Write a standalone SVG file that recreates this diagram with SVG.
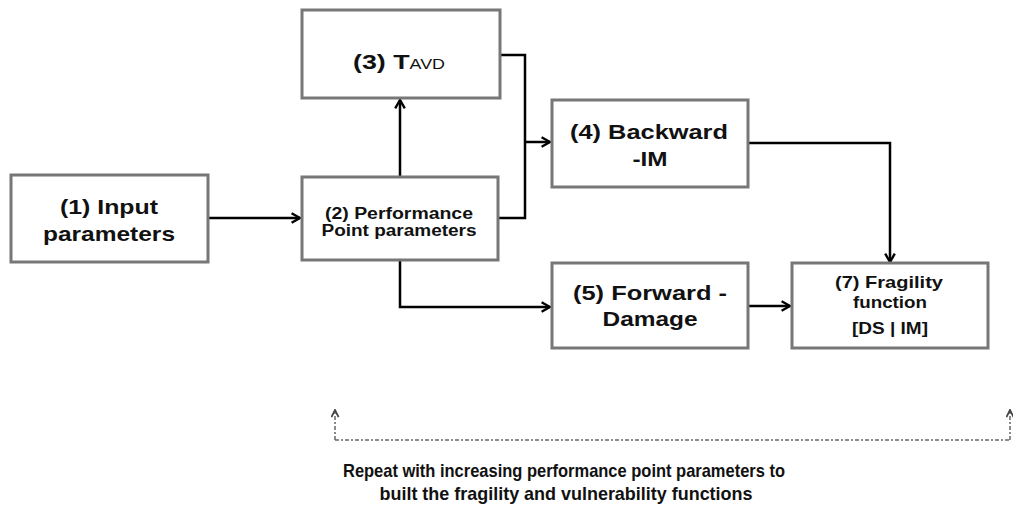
<svg xmlns="http://www.w3.org/2000/svg" width="1013" height="508" viewBox="0 0 1013 508">
<style>
.box{fill:#fff;stroke:#777;stroke-width:3}
.t{font-family:"Liberation Sans",Arial,sans-serif;font-weight:bold;fill:#111;text-anchor:middle}
.c{fill:none;stroke:#000;stroke-width:2.5}
.d{fill:none;stroke:#666;stroke-width:1.5;stroke-dasharray:4 2 2 2}
</style>
<defs>
<marker id="a" viewBox="0 0 10 10" refX="9" refY="5" markerWidth="12" markerHeight="13" orient="auto" markerUnits="userSpaceOnUse">
<path d="M2,1 L9,5 L2,9" fill="none" stroke="#000" stroke-width="2"/>
</marker>
<marker id="ad" viewBox="0 0 10 10" refX="9" refY="5" markerWidth="10" markerHeight="9" orient="auto" markerUnits="userSpaceOnUse">
<path d="M1,1 L9,5 L1,9" fill="none" stroke="#444" stroke-width="2"/>
</marker>
</defs>
<g id="connectors">
<path class="c" d="M208,218 H300" marker-end="url(#a)"/>
<path class="c" d="M400,177 V100" marker-end="url(#a)"/>
<path class="c" d="M500,55 H525 V218 H498"/>
<path class="c" d="M525,142 H550" marker-end="url(#a)"/>
<path class="c" d="M748,143 H890 V262" marker-end="url(#a)"/>
<path class="c" d="M400,260 V307 H550" marker-end="url(#a)"/>
<path class="c" d="M748,306 H790" marker-end="url(#a)"/>
<path class="d" d="M335,440 H1010"/>
<path class="d" d="M335,440 V410" marker-end="url(#ad)"/>
<path class="d" d="M1010,440 V410" marker-end="url(#ad)"/>
</g>
<g id="n1"><rect class="box" x="11" y="175" width="197" height="87"/>
<text class="t" x="109" y="214" font-size="21" textLength="98" lengthAdjust="spacingAndGlyphs">(1) Input</text>
<text class="t" x="109" y="241" font-size="21" textLength="132" lengthAdjust="spacingAndGlyphs">parameters</text></g>
<g id="n2"><rect class="box" x="302" y="177" width="196" height="83"/>
<text class="t" x="399" y="219" font-size="16" textLength="148" lengthAdjust="spacingAndGlyphs">(2) Performance</text>
<text class="t" x="399" y="236" font-size="16" textLength="155" lengthAdjust="spacingAndGlyphs">Point parameters</text></g>
<g id="n3"><rect class="box" x="302" y="10" width="198" height="88"/>
<text class="t" x="399" y="69" font-size="21" textLength="92" lengthAdjust="spacingAndGlyphs">(3) T<tspan font-size="14" font-weight="normal">AVD</tspan></text></g>
<g id="n4"><rect class="box" x="552" y="100" width="196" height="87"/>
<text class="t" x="649" y="139" font-size="21" textLength="158" lengthAdjust="spacingAndGlyphs">(4) Backward</text>
<text class="t" x="650" y="166" font-size="21" textLength="35" lengthAdjust="spacingAndGlyphs">-IM</text></g>
<g id="n5"><rect class="box" x="552" y="263" width="196" height="85"/>
<text class="t" x="650" y="300" font-size="21" textLength="154" lengthAdjust="spacingAndGlyphs">(5) Forward -</text>
<text class="t" x="650" y="326" font-size="21" textLength="95" lengthAdjust="spacingAndGlyphs">Damage</text></g>
<g id="n7"><rect class="box" x="792" y="263" width="196" height="85"/>
<text class="t" x="889" y="288" font-size="16.5" textLength="108" lengthAdjust="spacingAndGlyphs">(7) Fragility</text>
<text class="t" x="890" y="308" font-size="16.5" textLength="74" lengthAdjust="spacingAndGlyphs">function</text>
<text class="t" x="890" y="334" font-size="16.5" textLength="76" lengthAdjust="spacingAndGlyphs">[DS | IM]</text></g>
<g id="note">
<text class="t" x="564" y="477" font-size="18.5" textLength="442" lengthAdjust="spacingAndGlyphs">Repeat with increasing  performance point parameters to</text>
<text class="t" x="566" y="500" font-size="18.5" textLength="373" lengthAdjust="spacingAndGlyphs">built the fragility and vulnerability functions</text>
</g>
</svg>
